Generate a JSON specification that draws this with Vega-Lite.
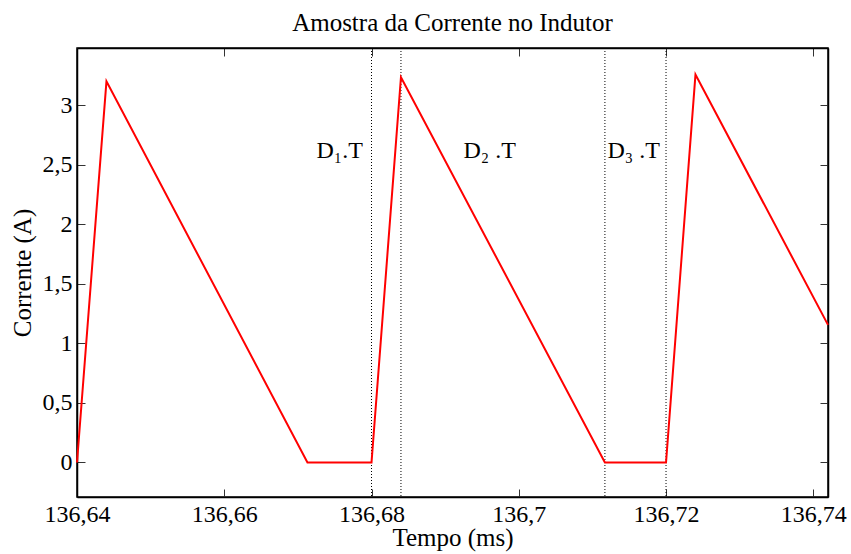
{
  "$schema": "https://vega.github.io/schema/vega-lite/v6.json",
  "width": 751,
  "height": 449,
  "autosize": {"type": "none"},
  "padding": {"left": 77, "top": 48, "right": 23, "bottom": 57},
  "background": "white",
  "title": {
    "text": "Amostra da Corrente no Indutor",
    "font": "Liberation Serif",
    "fontSize": 25,
    "fontWeight": "normal",
    "color": "black",
    "baseline": "alphabetic",
    "offset": -8
  },
  "config": {
    "locale": {"number": {"decimal": ",", "thousands": ".", "grouping": [3], "currency": ["", ""]}},
    "view": {"stroke": "black", "strokeWidth": 1.5},
    "axis": {
      "labelFont": "Liberation Serif",
      "labelFontSize": 24,
      "labelColor": "black",
      "titleFont": "Liberation Serif",
      "titleFontSize": 25,
      "titleFontWeight": "normal",
      "titleColor": "black",
      "domainColor": "black",
      "domainWidth": 1.5,
      "tickColor": "#333333",
      "tickWidth": 1,
      "tickSize": -8,
      "grid": false
    }
  },
  "datasets": {
    "curve": [
      {"t": 136.64, "i": 0},
      {"t": 136.644, "i": 3.2},
      {"t": 136.6713, "i": 0},
      {"t": 136.68, "i": 0},
      {"t": 136.684, "i": 3.235},
      {"t": 136.7117, "i": 0},
      {"t": 136.72, "i": 0},
      {"t": 136.724, "i": 3.257},
      {"t": 136.742, "i": 1.155}
    ],
    "marks": [
      {"t": 136.68},
      {"t": 136.684},
      {"t": 136.7117},
      {"t": 136.72}
    ],
    "labels": [
      {"t": 136.67567, "i": 2.556, "label": "D₁.T"},
      {"t": 136.69605, "i": 2.556, "label": "D₂ .T"},
      {"t": 136.71561, "i": 2.556, "label": "D₃ .T"}
    ]
  },
  "layer": [
    {
      "data": {"name": "marks"},
      "mark": {"type": "rule", "color": "black", "strokeWidth": 1, "strokeDash": [1, 2]},
      "encoding": {
        "x": {"field": "t", "type": "quantitative", "axis": null,
              "scale": {"domain": [136.64, 136.742], "nice": false, "zero": false}}
      }
    },
    {
      "data": {"name": "curve"},
      "mark": {"type": "line", "color": "#ff0000", "strokeWidth": 2},
      "encoding": {
        "x": {"field": "t", "type": "quantitative",
              "scale": {"domain": [136.64, 136.742], "nice": false, "zero": false},
              "axis": {"orient": "bottom", "title": "Tempo (ms)", "values": [136.64, 136.66, 136.68, 136.7, 136.72, 136.74], "format": "~g", "labelPadding": 13, "titlePadding": -1, "labelFlush": false}},
        "y": {"field": "i", "type": "quantitative",
              "scale": {"domain": [-0.29, 3.48], "nice": false, "zero": false},
              "axis": {"orient": "left", "title": "Corrente (A)", "values": [0, 0.5, 1, 1.5, 2, 2.5, 3], "format": "~g", "labelPadding": 13, "titlePadding": 7}}
      }
    },
    {
      "data": {"name": "labels"},
      "mark": {"type": "text", "font": "Liberation Serif", "fontSize": 24, "color": "black", "baseline": "alphabetic", "align": "center"},
      "encoding": {
        "x": {"field": "t", "type": "quantitative",
              "scale": {"domain": [136.64, 136.742], "nice": false, "zero": false},
              "axis": {"orient": "top", "title": null, "labels": false, "values": [136.64, 136.66, 136.68, 136.7, 136.72, 136.74]}},
        "y": {"field": "i", "type": "quantitative",
              "scale": {"domain": [-0.29, 3.48], "nice": false, "zero": false},
              "axis": {"orient": "right", "title": null, "labels": false, "values": [0, 0.5, 1, 1.5, 2, 2.5, 3]}},
        "text": {"field": "label", "type": "nominal"}
      }
    }
  ],
  "resolve": {"axis": {"x": "independent", "y": "independent"}}
}
